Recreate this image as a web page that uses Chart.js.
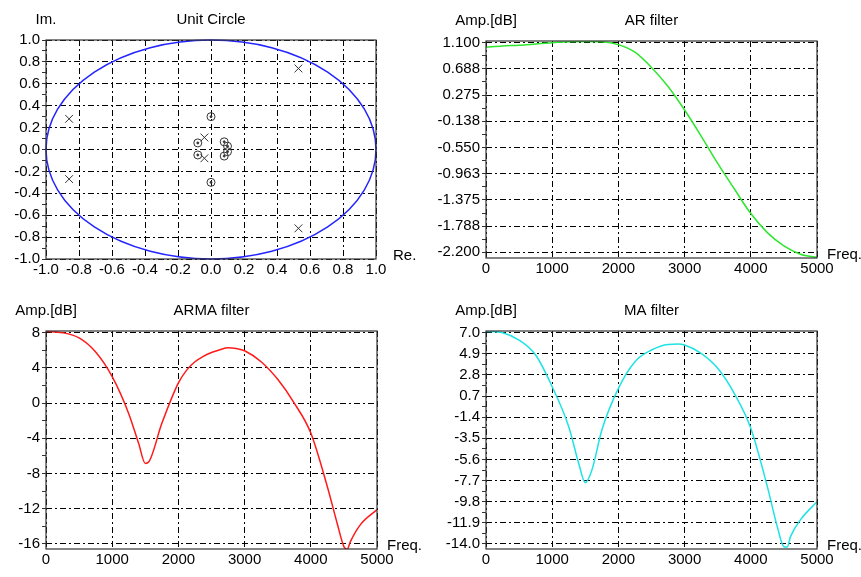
<!DOCTYPE html>
<html><head><meta charset="utf-8">
<script src="https://cdn.jsdelivr.net/npm/chart.js@4.4.0/dist/chart.umd.min.js"></script>
<style>
html,body{margin:0;padding:0;background:#fff;width:861px;height:577px;overflow:hidden}
canvas{position:absolute;left:0;top:0}
</style></head><body>
<canvas id="c1" width="861" height="577"></canvas>
<canvas id="c2" width="861" height="577"></canvas>
<canvas id="c3" width="861" height="577"></canvas>
<canvas id="c4" width="861" height="577"></canvas>
<script>
// ---- data ----
const polesRe = [0.53, 0.53, -0.86, -0.86, -0.04, -0.04];
const polesIm = [0.74, -0.72, 0.28, -0.27, 0.11, -0.08];
const zerosRe = [0.0, 0.0, -0.08, -0.08, 0.08, 0.10, 0.10, 0.08];
const zerosIm = [0.30, -0.30, 0.06, -0.05, 0.07, 0.03, -0.02, -0.06];
const circleRadius = 1;
const unitYTicks = ['1.0','0.8','0.6','0.4','0.2','0.0','-0.2','-0.4','-0.6','-0.8','-1.0'];
const unitXTicks = ['-1.0','-0.8','-0.6','-0.4','-0.2','0.0','0.2','0.4','0.6','0.8','1.0'];
const freqTicks = ['0','1000','2000','3000','4000','5000'];

const arFreq = [0,250,500,750,1000,1250,1500,1750,2000,2250,2500,2750,3000,3250,3500,3750,4000,4250,4500,4750,5000];
const arAmp  = [1.03,1.05,1.06,1.08,1.10,1.115,1.12,1.115,1.07,0.95,0.71,0.41,0.04,-0.37,-0.80,-1.20,-1.59,-1.89,-2.10,-2.23,-2.28];
const arTicks = ['1.100','0.688','0.275','-0.138','-0.550','-0.963','-1.375','-1.788','-2.200'];

const armaFreq = [0,250,500,750,1000,1250,1400,1500,1550,1750,2000,2125,2250,2375,2500,2625,2750,2875,3000,3250,3500,3750,4000,4250,4400,4500,4550,4600,4750,5000];
const armaAmp  = [8.15,8.0,7.4,5.8,3.0,-1.2,-4.6,-6.85,-6.7,-2.3,2.3,3.75,4.7,5.3,5.75,6.05,6.3,6.2,5.95,4.7,2.7,0.0,-3.4,-9.5,-13.7,-16.3,-16.6,-15.7,-13.8,-12.1];
const armaTicks = ['8','4','0','-4','-8','-12','-16'];

const maFreq = [0,250,500,750,1000,1250,1400,1500,1600,1750,2000,2250,2500,2750,2900,3000,3250,3500,3750,4000,4250,4400,4500,4550,4600,4750,5000];
const maAmp  = [7.15,7.0,6.27,4.78,1.63,-2.34,-5.98,-7.9,-6.65,-2.67,1.47,4.12,5.28,5.84,5.87,5.77,4.94,3.46,0.97,-2.5,-8.3,-12.28,-14.27,-14.3,-13.27,-11.6,-9.8];
const maTicks = ['7.0','4.9','2.8','0.7','-1.4','-3.5','-5.6','-7.7','-9.8','-11.9','-14.0'];

// ---- helpers ----
const FONT = '"Liberation Sans", Arial, sans-serif';
const DASH = [6,3,2,3];
const W = 861, H = 577;

function makeTicks(labels, minor) {
  const vals = labels.map(Number);
  const out = [];
  vals.forEach((v, i) => {
    out.push({value: v, lbl: labels[i]});
    if (minor && i < vals.length - 1) out.push({value: (v + vals[i+1]) / 2, lbl: '', m: true});
  });
  return out.sort((a, b) => a.value - b.value);
}
function axisY(labels, min, max, width) {
  const ticks = makeTicks(labels, true);
  return {
    type: 'linear', position: 'left', min, max, bounds: 'data',
    afterBuildTicks: s => { s.ticks = ticks.map(t => Object.assign({}, t)); },
    afterFit: s => { s.width = width; },
    ticks: { autoSkip: false, padding: 2, color: '#000', font: {family: FONT, size: 15},
             callback: (v, i, t) => t[i].lbl },
    grid: { color: c => (c.tick && c.tick.m) ? 'rgba(0,0,0,0)' : '#000', lineWidth: 1,
            tickLength: 4, tickColor: '#333', tickBorderDash: [], borderDash: DASH },
    border: { display: false, dash: DASH }
  };
}
function axisX(labels, min, max) {
  const ticks = makeTicks(labels, false);
  return {
    type: 'linear', position: 'bottom', min, max, bounds: 'data',
    afterBuildTicks: s => { s.ticks = ticks.map(t => Object.assign({}, t)); },
    afterFit: s => { s.height = 20; },
    ticks: { autoSkip: false, maxRotation: 0, minRotation: 0, padding: 0, color: '#000',
             font: {family: FONT, size: 15}, callback: (v, i, t) => t[i].lbl },
    grid: { color: '#000', lineWidth: 1, tickLength: 2, tickColor: 'rgba(0,0,0,0)', tickBorderDash: [], borderDash: DASH },
    border: { display: false, dash: DASH }
  };
}
const panelPlugin = {
  id: 'panel',
  beforeDatasetsDraw(chart, args, o) {
    if (!o.circle) return;
    const {ctx, scales: {x, y}} = chart;
    const cx = x.getPixelForValue(0), cy = y.getPixelForValue(0);
    const rx = x.getPixelForValue(circleRadius) - cx, ry = cy - y.getPixelForValue(circleRadius);
    ctx.save();
    ctx.strokeStyle = '#2424ff'; ctx.lineWidth = 1.5;
    ctx.beginPath(); ctx.ellipse(cx, cy, rx, ry, 0, 0, Math.PI * 2); ctx.stroke();
    ctx.restore();
  },
  afterDraw(chart, args, o) {
    const {ctx, chartArea: a} = chart;
    ctx.save();
    ctx.strokeStyle = '#333'; ctx.lineWidth = 1.2;
    ctx.strokeRect(a.left, a.top, a.right - a.left, a.bottom - a.top);
    ctx.fillStyle = '#000';
    ctx.font = '15px ' + FONT;
    ctx.textBaseline = 'middle';
    ctx.textAlign = 'center';
    ctx.fillText(o.title, (a.left + a.right) / 2, a.top - 20);
    ctx.fillText(o.yName, a.left, a.top - 20);
    ctx.textAlign = 'left';
    ctx.fillText(o.xName, a.right + o.xGap, a.bottom - 3);
    ctx.restore();
  }
};
function pad(L, T, R, B) { return {left: 2, top: T, right: W - R, bottom: H - B - 20}; }
function baseOptions(box, panel, xAxis, yAxis) {
  return {
    responsive: false, animation: false, events: [],
    layout: {padding: box},
    scales: {x: xAxis, y: yAxis},
    plugins: {legend: {display: false}, tooltip: {enabled: false}, panel}
  };
}
function pts(xs, ys) { return xs.map((v, i) => ({x: v, y: ys[i]})); }
function curveChart(id, xs, ys, color, ticks, ymin, ymax, L, T, R, B, title) {
  new Chart(document.getElementById(id), {
    type: 'line',
    data: {datasets: [{data: pts(xs, ys), borderColor: color, borderWidth: 1.5, pointRadius: 0,
                       cubicInterpolationMode: 'monotone', fill: false}]},
    options: baseOptions(pad(L, T, R, B), {title, yName: 'Amp.[dB]', xName: 'Freq.', xGap: 10},
                         axisX(freqTicks, 0, 5000), axisY(ticks, ymin, ymax, L - 2)),
    plugins: [panelPlugin]
  });
}

// ---- Unit circle ----
new Chart(document.getElementById('c1'), {
  type: 'scatter',
  data: {datasets: [
    {data: pts(polesRe, polesIm), pointStyle: 'crossRot', pointRadius: 5.5, borderColor: '#333', borderWidth: 1, backgroundColor: '#333'},
    {data: pts(zerosRe, zerosIm), pointStyle: 'circle', pointRadius: 4, borderColor: '#333', borderWidth: 1, backgroundColor: 'rgba(0,0,0,0)'},
    {data: pts(zerosRe, zerosIm), pointStyle: 'circle', pointRadius: 1, borderColor: '#333', borderWidth: 1, backgroundColor: '#333'}
  ]},
  options: baseOptions(pad(46, 40, 376, 259), {circle: true, title: 'Unit Circle', yName: 'Im.', xName: 'Re.', xGap: 17},
                       axisX(unitXTicks, -1, 1), axisY(unitYTicks, -1, 1, 44)),
  plugins: [panelPlugin]
});

curveChart('c2', arFreq, arAmp, '#2ee62e', arTicks, -2.29, 1.127, 486, 41, 817, 258, 'AR filter');
curveChart('c3', armaFreq, armaAmp, '#ff1a1a', armaTicks, -16.57, 8.19, 46, 331, 377, 549, 'ARMA filter');
curveChart('c4', maFreq, maAmp, '#1fe3e3', maTicks, -14.5, 7.17, 486, 331, 817, 549, 'MA filter');
</script>
</body></html>
